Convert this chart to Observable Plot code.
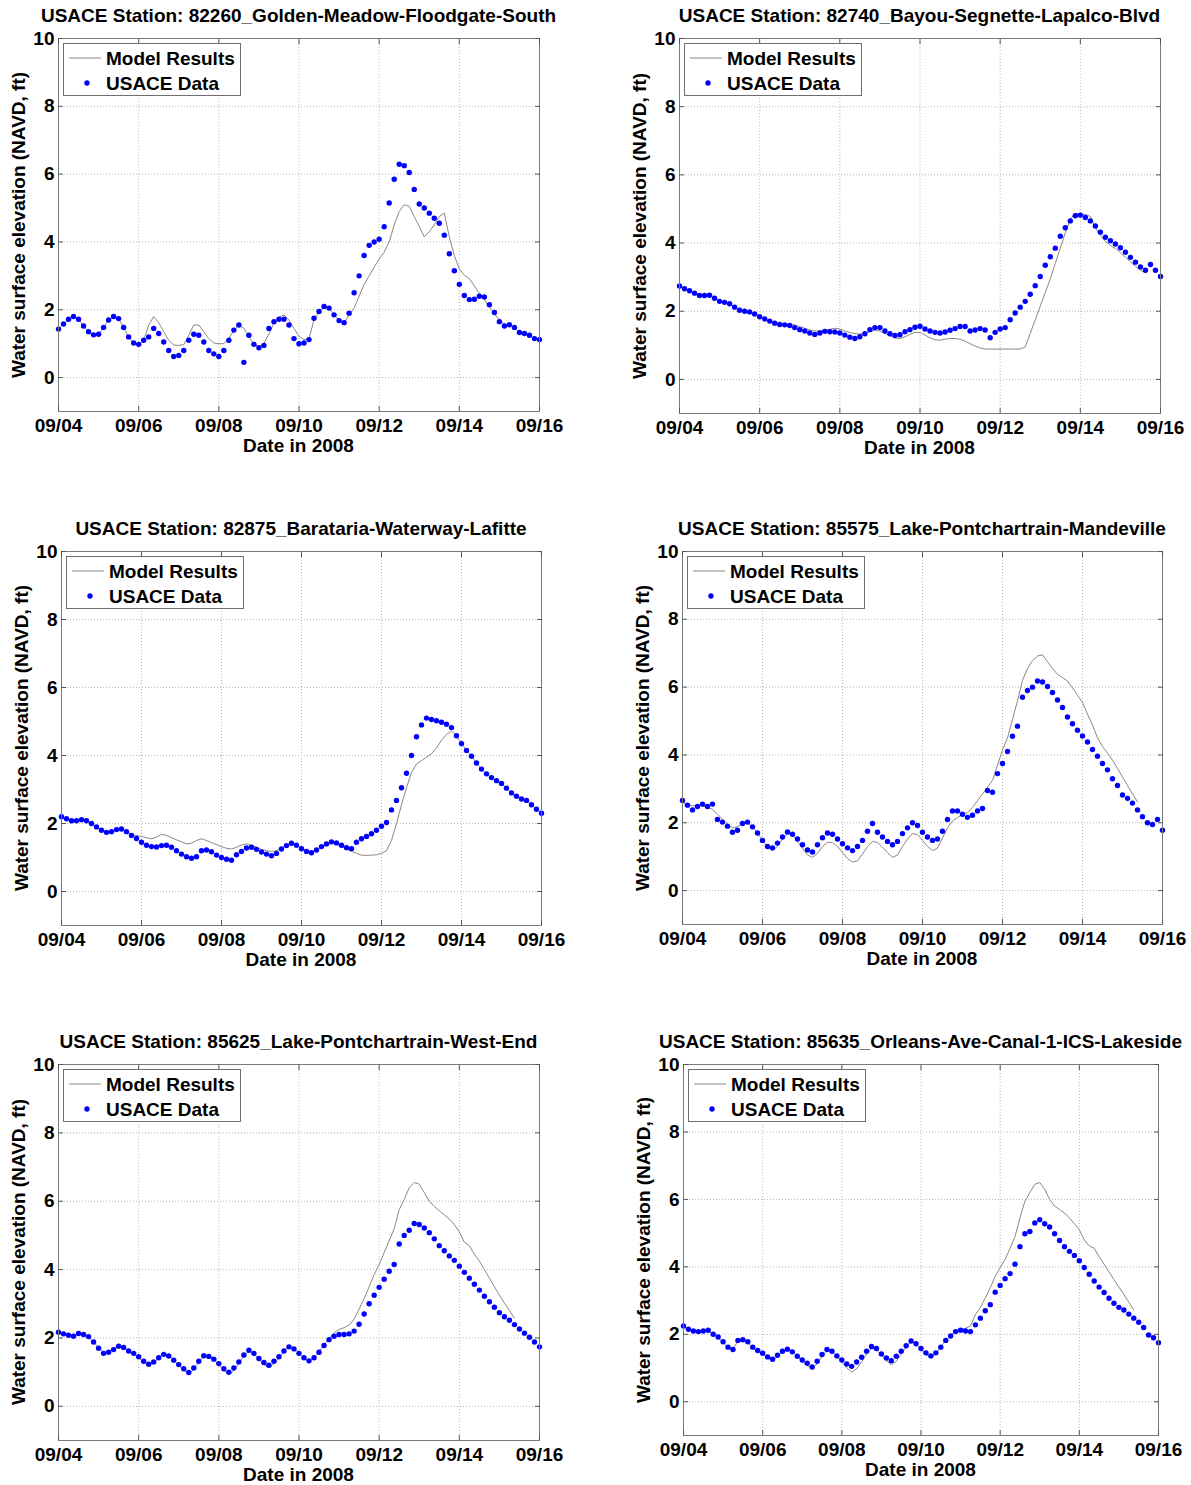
<!DOCTYPE html>
<html><head><meta charset="utf-8">
<script src="https://cdn.jsdelivr.net/npm/d3@7"></script>
<script src="https://cdn.jsdelivr.net/npm/@observablehq/plot@0.6"></script>
<style>
body{margin:0;background:#fff;}
#root{position:relative;width:1191px;height:1485px;overflow:hidden;font-family:"Liberation Sans",Arial,Helvetica,sans-serif;font-weight:bold;color:#000;background:#fff;}
.abs{position:absolute;white-space:nowrap;}
.ctr{font-size:19px;transform:translate(-50%,-50%);line-height:1;}
.ylab{font-size:19px;transform:translate(-50%,-50%) rotate(-90deg);line-height:1;}
.legend{background:#fff;border:1px solid #6e6e6e;box-sizing:border-box;}
.legend span{position:absolute;font-size:19px;line-height:1;transform:translateY(-50%);}
</style></head><body><div id="root"></div><script>
// ---------- data ----------
const stationTitles = [
  "USACE Station: 82260_Golden-Meadow-Floodgate-South",
  "USACE Station: 82740_Bayou-Segnette-Lapalco-Blvd",
  "USACE Station: 82875_Barataria-Waterway-Lafitte",
  "USACE Station: 85575_Lake-Pontchartrain-Mandeville",
  "USACE Station: 85625_Lake-Pontchartrain-West-End",
  "USACE Station: 85635_Orleans-Ave-Canal-1-ICS-Lakeside"
];
const seriesNames = ["Model Results", "USACE Data"];
const xLabel = "Date in 2008";
const yLabel = "Water surface elevation (NAVD, ft)";
const xTickLabels = ["09/04","09/06","09/08","09/10","09/12","09/14","09/16"];
const yTicks = [0, 2, 4, 6, 8, 10];
const sampleHours = 3; // values below are every 3 hours from 09/04 00:00 to 09/16 00:00

const obs1 = [1.43,1.58,1.72,1.80,1.72,1.52,1.35,1.26,1.28,1.48,1.70,1.80,1.74,1.48,1.20,1.02,0.98,1.10,
1.20,1.45,1.30,1.05,0.80,0.62,0.65,0.80,1.10,1.28,1.25,1.05,0.80,0.70,0.62,0.80,1.10,1.40,1.55,
0.45,1.25,0.98,0.88,0.95,1.45,1.65,1.72,1.72,1.55,1.15,1.00,1.02,1.12,1.75,1.95,2.10,2.05,1.85,1.68,1.62,
1.90,2.50,3.00,3.60,3.90,4.00,4.08,4.45,5.15,5.85,6.29,6.25,6.05,5.55,5.12,5.00,4.85,4.70,4.55,4.20,
3.65,3.15,2.75,2.42,2.30,2.31,2.40,2.38,2.15,1.92,1.65,1.52,1.56,1.48,1.33,1.30,1.25,1.15,1.12];
const model1 = [1.43,1.58,1.72,1.80,1.72,1.52,1.35,1.26,1.28,1.48,1.70,1.80,1.74,1.48,1.20,1.02,0.98,1.10,
1.55,1.80,1.62,1.35,1.10,0.96,0.95,0.97,1.25,1.55,1.55,1.35,1.15,1.02,1.00,1.00,
1.15,1.40,1.55,1.45,1.20,1.00,0.90,1.00,1.30,1.60,1.78,1.85,1.70,1.45,1.22,1.12,1.15,1.70,
1.95,2.10,2.05,1.85,1.68,1.62,1.85,2.05,2.40,2.75,3.00,3.25,3.50,3.70,4.00,4.50,4.90,5.10,
5.05,4.75,4.45,4.15,4.30,4.50,4.75,4.85,4.15,3.60,3.20,3.02,2.92,2.70,2.48,2.30,2.08,1.88,1.70,1.57,1.56,1.48,1.33,1.30,1.25,1.15,1.12];

const obs2 = [2.74,2.66,2.60,2.53,2.46,2.46,2.47,2.38,2.29,2.26,2.22,2.12,2.03,2.00,1.98,1.92,1.84,1.77,1.71,1.65,1.61,
1.60,1.58,1.52,1.46,1.42,1.36,1.32,1.36,1.41,1.40,1.39,1.36,1.30,1.24,1.20,1.25,1.34,1.46,1.52,1.52,
1.42,1.34,1.29,1.31,1.40,1.46,1.53,1.56,1.48,1.42,1.38,1.36,1.39,1.44,1.49,1.55,1.55,1.42,1.45,1.49,
1.45,1.22,1.38,1.48,1.52,1.75,1.95,2.12,2.29,2.50,2.75,3.02,3.35,3.60,3.85,4.20,4.45,4.65,4.80,4.82,
4.75,4.65,4.50,4.32,4.17,4.07,3.97,3.86,3.73,3.58,3.44,3.30,3.20,3.37,3.20,3.02];
const model2 = [2.74,2.66,2.60,2.53,2.46,2.46,2.47,2.38,2.29,2.26,2.22,2.12,2.03,2.00,1.96,1.90,1.84,1.77,1.71,1.65,1.62,1.62,
1.62,1.60,1.55,1.50,1.45,1.42,1.42,1.45,1.47,1.50,1.48,1.42,1.38,1.34,1.33,1.36,1.40,1.44,1.42,1.35,
1.28,1.22,1.20,1.25,1.32,1.38,1.38,1.30,1.22,1.16,1.15,1.18,1.20,1.20,1.18,1.12,1.05,0.98,0.92,0.89,
0.89,0.89,0.89,0.89,0.89,0.89,0.89,0.95,1.35,1.75,2.15,2.55,2.95,3.40,3.85,4.30,4.70,4.87,4.85,4.84,
4.78,4.45,4.22,4.05,3.93,3.84,3.72,3.58,3.45,3.32,3.20,3.13,null,null,null];

const obs3 = [2.20,2.14,2.08,2.08,2.11,2.08,2.00,1.90,1.80,1.74,1.76,1.82,1.84,1.76,1.65,1.56,1.45,1.36,1.32,1.31,
1.35,1.36,1.30,1.20,1.10,1.02,0.98,1.02,1.20,1.22,1.17,1.07,1.00,0.95,0.92,1.08,1.18,1.28,1.30,1.24,
1.16,1.10,1.05,1.12,1.25,1.35,1.42,1.36,1.26,1.18,1.14,1.22,1.32,1.40,1.46,1.43,1.36,1.29,1.26,1.45,
1.55,1.62,1.70,1.80,1.92,2.03,2.40,2.68,3.05,3.48,4.00,4.55,4.90,5.10,5.06,5.02,4.98,4.92,4.82,4.58,
4.35,4.15,3.98,3.78,3.60,3.46,3.35,3.26,3.18,3.04,2.90,2.80,2.72,2.68,2.55,2.42,2.30];
const model3 = [2.20,2.14,2.08,2.08,2.11,2.08,2.00,1.90,1.80,1.74,1.76,1.82,1.84,1.76,1.68,1.65,1.62,1.58,1.55,1.60,
1.68,1.65,1.58,1.52,1.46,1.40,1.42,1.50,1.55,1.50,1.44,1.38,1.32,1.27,1.25,1.30,1.37,1.40,1.36,1.30,
1.24,1.20,1.18,1.20,1.28,1.35,1.40,1.36,1.28,1.20,1.16,1.22,1.30,1.36,1.42,1.40,1.32,1.25,1.18,1.12,
1.07,1.06,1.07,1.08,1.12,1.20,1.50,2.00,2.55,3.05,3.50,3.75,3.85,3.95,4.05,4.22,4.45,4.62,4.72,4.58,
4.35,4.15,3.98,3.78,3.60,3.46,3.35,3.26,3.18,3.04,2.90,2.80,2.72,2.68,2.55,2.42,2.30];

const obs4 = [2.66,2.52,2.38,2.48,2.55,2.48,2.55,2.10,2.02,1.90,1.72,1.78,1.98,2.02,1.88,1.70,1.48,1.30,1.26,1.40,
1.58,1.73,1.66,1.52,1.35,1.20,1.14,1.35,1.56,1.70,1.66,1.52,1.38,1.26,1.18,1.30,1.48,1.75,1.98,1.72,
1.58,1.45,1.35,1.45,1.68,1.85,2.00,1.92,1.72,1.58,1.48,1.52,1.75,2.10,2.35,2.35,2.25,2.16,2.22,2.35,
2.42,2.95,2.90,3.45,3.75,4.10,4.55,4.85,5.70,5.90,6.00,6.18,6.15,6.02,5.84,5.62,5.40,5.12,4.92,4.73,
4.56,4.38,4.16,3.96,3.75,3.56,3.30,3.10,2.82,2.72,2.58,2.38,2.18,2.00,1.95,2.10,1.78];
const model4 = [2.60,2.55,2.50,2.50,2.50,2.45,2.40,2.25,2.10,1.95,1.85,1.88,1.98,2.00,1.88,1.70,1.48,1.28,1.18,1.30,
1.52,1.68,1.65,1.45,1.25,1.05,0.98,1.10,1.30,1.42,1.42,1.30,1.12,0.95,0.84,0.88,1.08,1.30,1.45,1.42,
1.28,1.12,0.98,1.05,1.30,1.52,1.68,1.65,1.48,1.30,1.18,1.25,1.55,1.85,2.05,2.15,2.25,2.30,2.45,2.65,
2.85,3.05,3.25,3.70,4.15,4.50,5.05,5.60,6.20,6.55,6.78,6.92,6.95,6.75,6.55,6.38,6.28,6.18,5.98,5.76,
5.55,5.20,4.88,4.50,4.25,4.05,3.85,3.60,3.35,3.10,2.85,2.62,null,null,null,null,null];

const obs5 = [2.17,2.12,2.08,2.05,2.13,2.10,2.04,1.88,1.70,1.55,1.58,1.66,1.76,1.72,1.62,1.55,1.45,1.32,1.23,1.30,
1.42,1.52,1.47,1.35,1.22,1.10,0.99,1.12,1.32,1.48,1.46,1.38,1.25,1.10,1.00,1.12,1.30,1.50,1.64,1.55,
1.40,1.28,1.20,1.32,1.45,1.62,1.74,1.68,1.55,1.42,1.33,1.42,1.58,1.78,1.95,2.05,2.10,2.10,2.12,2.20,
2.40,2.70,3.00,3.25,3.48,3.72,3.95,4.15,4.75,5.00,5.15,5.35,5.32,5.22,5.08,4.90,4.70,4.55,4.40,4.27,
4.10,3.92,3.75,3.57,3.40,3.22,3.06,2.90,2.74,2.62,2.52,2.39,2.26,2.14,2.02,1.88,1.74];
const model5 = [2.15,2.12,2.08,2.06,2.10,2.08,2.02,1.88,1.72,1.58,1.60,1.68,1.78,1.74,1.62,1.52,1.42,1.30,1.20,1.28,
1.42,1.55,1.50,1.36,1.20,1.05,0.95,1.08,1.30,1.48,1.48,1.38,1.22,1.05,0.92,1.05,1.25,1.48,1.62,1.55,
1.38,1.22,1.12,1.25,1.42,1.62,1.76,1.70,1.55,1.40,1.32,1.42,1.60,1.80,1.98,2.15,2.25,2.30,2.38,2.55,
2.85,3.15,3.50,3.85,4.15,4.50,4.85,5.20,5.75,6.05,6.40,6.55,6.50,6.25,6.00,5.85,5.72,5.60,5.48,5.32,
5.10,4.80,4.70,4.45,4.25,4.00,3.75,3.50,3.25,3.02,2.80,2.58,null,null,null,null,null];

const obs6 = [2.25,2.15,2.10,2.08,2.10,2.12,2.00,1.92,1.78,1.62,1.55,1.82,1.84,1.78,1.62,1.52,1.44,1.33,1.26,1.38,
1.50,1.56,1.48,1.35,1.24,1.14,1.03,1.20,1.40,1.55,1.50,1.36,1.24,1.12,1.05,1.18,1.32,1.50,1.64,1.58,
1.42,1.30,1.22,1.35,1.50,1.66,1.80,1.72,1.58,1.45,1.36,1.45,1.62,1.82,1.95,2.08,2.12,2.10,2.08,2.28,
2.48,2.70,2.88,3.25,3.45,3.65,3.80,4.08,4.60,4.98,5.05,5.30,5.40,5.28,5.18,4.98,4.78,4.60,4.46,4.34,
4.18,3.98,3.78,3.58,3.40,3.24,3.07,2.92,2.80,2.72,2.60,2.48,2.36,2.20,1.98,1.90,1.75];
const model6 = [2.22,2.15,2.10,2.08,2.08,2.08,2.00,1.90,1.76,1.62,1.58,1.78,1.82,1.76,1.60,1.50,1.42,1.30,1.22,1.35,
1.50,1.58,1.50,1.35,1.20,1.08,0.98,1.12,1.35,1.52,1.50,1.35,1.18,1.00,0.88,0.98,1.18,1.42,1.58,1.55,
1.38,1.22,1.10,1.20,1.42,1.62,1.78,1.72,1.55,1.40,1.32,1.42,1.62,1.82,1.98,2.10,2.15,2.18,2.25,2.58,
2.80,3.08,3.38,3.72,3.98,4.22,4.55,4.90,5.45,5.95,6.20,6.45,6.50,6.30,6.00,5.80,5.70,5.60,5.45,5.28,
5.10,4.80,4.62,4.55,4.30,4.08,3.85,3.62,3.40,3.18,2.95,2.72,null,null,null,null,null];

const obsSeries = [obs1, obs2, obs3, obs4, obs5, obs6];
const modelSeries = [model1, model2, model3, model4, model5, model6];

// ---------- layout (plot frame edges in page pixels) ----------
const frames = [
  {x0: 58, x1: 539, y0: 38, y1: 411},
  {x0: 679, x1: 1160, y0: 38, y1: 413},
  {x0: 61, x1: 541, y0: 551, y1: 925},
  {x0: 682, x1: 1162, y0: 551, y1: 924},
  {x0: 58, x1: 539, y0: 1064, y1: 1440},
  {x0: 683, x1: 1158, y0: 1064, y1: 1435}
];
const ML = 58, MR = 34, MT = 6, MB = 44;
const FONT = '"Liberation Sans", Arial, Helvetica, sans-serif';
const modelColor = "#8c8782";
const obsColor = "#0000ff";
const dotR = 2.7;
const gridStyle = {stroke: "#b8b8b8", strokeOpacity: 1, strokeDasharray: "1,2"};

const parseTick = d3.utcParse("%m/%d/%Y");
const xTicks = xTickLabels.map(s => parseTick(s + "/2008"));
const fmt = d3.utcFormat("%m/%d");
const t0 = xTicks[0], t1 = xTicks[xTicks.length - 1];
const timeAt = i => new Date(+t0 + i * sampleHours * 3600e3);

const root = document.getElementById("root");
function addDiv(cls, text, left, top) {
  const d = document.createElement("div");
  d.className = "abs " + cls;
  d.textContent = text;
  d.style.left = left + "px";
  d.style.top = top + "px";
  root.appendChild(d);
  return d;
}

frames.forEach((F, i) => {
  const obsRows = obsSeries[i].map((v, k) => ({t: timeAt(k), v}));
  const modelRows = modelSeries[i].map((v, k) => ({t: timeAt(k), v}));
  const W = F.x1 - F.x0 + ML + MR, H = F.y1 - F.y0 + MT + MB;
  const svg = Plot.plot({
    width: W, height: H,
    marginLeft: ML, marginRight: MR, marginTop: MT, marginBottom: MB,
    style: {fontFamily: FONT, fontSize: "19px", fontWeight: "bold", color: "#000", background: "transparent", overflow: "visible"},
    x: {type: "utc", domain: [t0, t1]},
    y: {domain: [-1, 10]},
    marks: [
      Plot.gridX(xTicks, gridStyle),
      Plot.gridY(yTicks, gridStyle),
      Plot.line(modelRows, {x: "t", y: "v", stroke: modelColor, strokeWidth: 1}),
      Plot.dot(obsRows, {x: "t", y: "v", r: dotR, fill: obsColor, stroke: null}),
      Plot.frame({stroke: "#7a7a7a"}),
      Plot.axisX(xTicks, {anchor: "bottom", tickSize: -5, tickPadding: 12, tickFormat: fmt, label: null, stroke: "#555"}),
      Plot.axisX(xTicks, {anchor: "top", tickSize: -5, tickFormat: () => "", label: null, stroke: "#555"}),
      Plot.axisY(yTicks, {anchor: "left", tickSize: -5, tickPadding: 9, label: null, stroke: "#555"}),
      Plot.axisY(yTicks, {anchor: "right", tickSize: -5, tickFormat: () => "", label: null, stroke: "#555"})
    ]
  });
  svg.style.position = "absolute";
  svg.style.left = (F.x0 - ML) + "px";
  svg.style.top = (F.y0 - MT) + "px";
  svg.style.maxWidth = "none";
  root.appendChild(svg);

  // title, axis labels
  addDiv("ctr", stationTitles[i], (F.x0 + F.x1) / 2, F.y0 - 23);
  addDiv("ctr", xLabel, (F.x0 + F.x1) / 2, F.y1 + 34);
  addDiv("ylab", yLabel, F.x0 - 40, (F.y0 + F.y1) / 2);

  // legend
  const lg = document.createElement("div");
  lg.className = "abs legend";
  lg.style.left = (F.x0 + 5) + "px";
  lg.style.top = (F.y0 + 5) + "px";
  lg.style.width = "178px";
  lg.style.height = "53px";
  const sw = d3.create("svg").attr("width", 40).attr("height", 53)
    .style("position", "absolute").style("left", "0px").style("top", "0px");
  sw.append("line").attr("x1", 5).attr("x2", 37).attr("y1", 14).attr("y2", 14)
    .attr("stroke", modelColor).attr("stroke-width", 1);
  sw.append("circle").attr("cx", 23).attr("cy", 39).attr("r", dotR).attr("fill", obsColor);
  lg.appendChild(sw.node());
  seriesNames.forEach((name, j) => {
    const s = document.createElement("span");
    s.textContent = name;
    s.style.left = "42px";
    s.style.top = (j === 0 ? 14 : 39) + "px";
    lg.appendChild(s);
  });
  root.appendChild(lg);
});
</script></body></html>
